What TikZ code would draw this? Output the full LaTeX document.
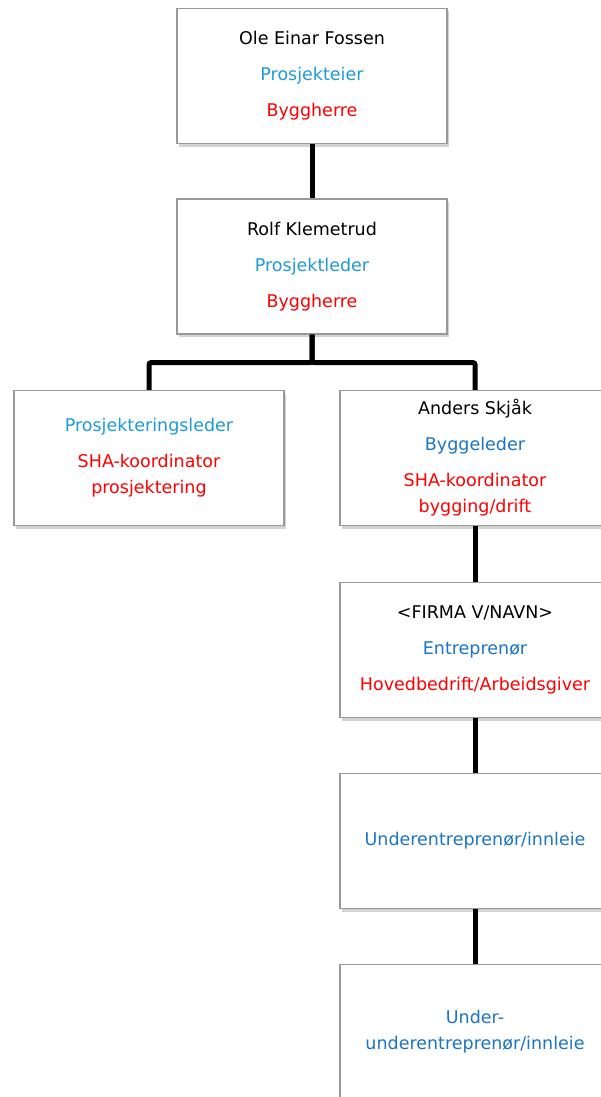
\documentclass[tikz,border=0pt]{standalone}
\usepackage{fontspec}
\setmainfont{DejaVu Sans}
\usetikzlibrary{shadows}
\definecolor{lysblaa}{HTML}{1E9BD7}
\definecolor{blaa}{HTML}{1B75C5}
\definecolor{roed}{HTML}{FF0000}
\tikzset{
  boks/.style={draw=gray!80, line width=1.2pt, fill=white, minimum width=270pt,
    minimum height=135pt, align=center, inner sep=0pt,
    font=\fontsize{17.5}{26}\selectfont,
    drop shadow={opacity=0.35, shadow xshift=2pt, shadow yshift=-3pt}},
  linje/.style={line width=5pt, rounded corners=2pt}
}
\begin{document}
\begin{tikzpicture}[x=1pt, y=1pt]
  \useasboundingbox (0,0) rectangle (601,-1097);
  \clip (0,0) rectangle (601,-1097);
  \node [boks] (eier) at (312,-76) {Ole Einar Fossen\\[10pt]
    \textcolor{lysblaa}{Prosjekteier}\\[10pt]\textcolor{roed}{Byggherre}};
  \node [boks] (leder) at (312,-266.5) {Rolf Klemetrud\\[10pt]
    \textcolor{lysblaa}{Prosjektleder}\\[10pt]\textcolor{roed}{Byggherre}};
  \node [boks] (prosj) at (149,-458) {\textcolor{lysblaa}{Prosjekteringsleder}\\[10pt]
    \textcolor{roed}{SHA-koordinator}\\\textcolor{roed}{prosjektering}};
  \node [boks] (bygg) at (475,-458) {Anders Skjåk\\[10pt]
    \textcolor{blaa}{Byggeleder}\\[10pt]
    \textcolor{roed}{SHA-koordinator}\\\textcolor{roed}{bygging/drift}};
  \node [boks] (entr) at (475,-650) {<FIRMA V/NAVN>\\[10pt]
    \textcolor{blaa}{Entreprenør}\\[10pt]\textcolor{roed}{Hovedbedrift/Arbeidsgiver}};
  \node [boks] (under) at (475,-841) {\textcolor{blaa}{Underentreprenør/innleie}};
  \node [boks] (uunder) at (475,-1032) {\textcolor{blaa}{Under-}\\
    \textcolor{blaa}{underentreprenør/innleie}};
  % forbindelser
  \draw [linje] (eier.south) -- (leder.north);
  \draw [linje] (leder.south) -- ++(0,-28) -| (prosj.north);
  \draw [linje] (leder.south) -- ++(0,-28) -| (bygg.north);
  \draw [linje] (bygg.south) -- (entr.north);
  \draw [linje] (entr.south) -- (under.north);
  \draw [linje] (under.south) -- (uunder.north);
\end{tikzpicture}
\end{document}
